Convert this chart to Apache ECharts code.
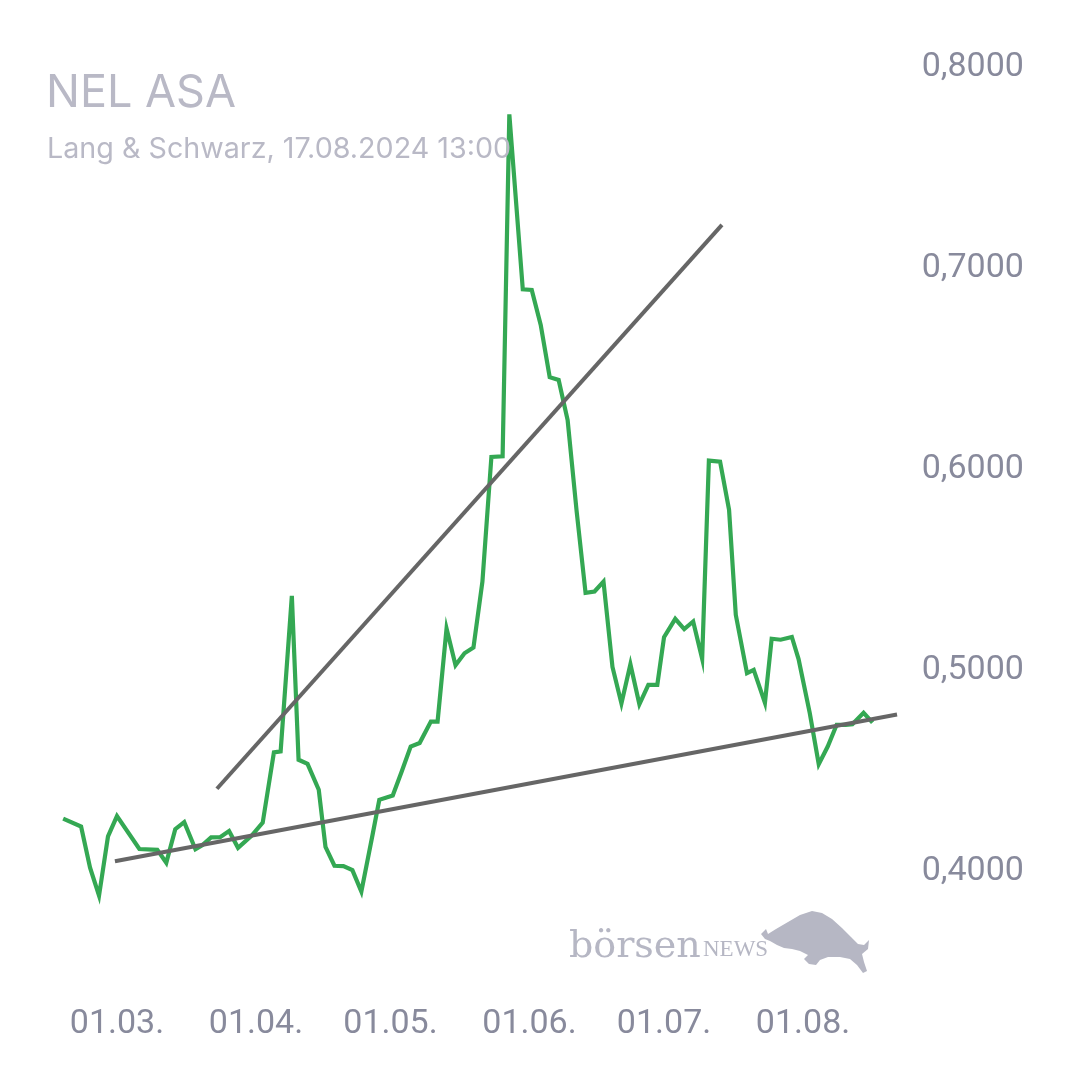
<!DOCTYPE html>
<html>
<head>
<meta charset="utf-8">
<style>
  html, body { margin: 0; padding: 0; background: #ffffff; }
  #chart { width: 1080px; height: 1080px; }
</style>
<script src="https://cdn.jsdelivr.net/npm/echarts@6/dist/echarts.min.js"></script>
</head>
<body>
<div id="chart"></div>
<script>
// ---------- data ----------
const titleText = 'NEL ASA';
const subtitleText = 'Lang & Schwarz, 17.08.2024 13:00';

const dates = [
  '2024-02-18 00:00','2024-02-22 00:00','2024-02-24 00:00','2024-02-26 00:00','2024-02-28 00:00',
  '2024-03-01 00:00','2024-03-06 00:00','2024-03-10 00:00','2024-03-12 00:00','2024-03-14 00:00',
  '2024-03-16 00:00','2024-03-18 12:00','2024-03-20 00:00','2024-03-22 00:00','2024-03-24 00:00',
  '2024-03-26 00:00','2024-03-28 00:00','2024-03-31 00:00','2024-04-02 12:00','2024-04-05 00:00',
  '2024-04-06 12:00','2024-04-09 00:00','2024-04-10 12:00','2024-04-12 12:00','2024-04-15 00:00',
  '2024-04-16 12:00','2024-04-18 12:00','2024-04-20 12:00','2024-04-22 12:00','2024-04-24 12:00',
  '2024-04-27 00:00','2024-04-28 12:00','2024-05-01 12:00','2024-05-03 12:00','2024-05-05 12:00',
  '2024-05-07 12:00','2024-05-10 00:00','2024-05-11 12:00','2024-05-13 12:00','2024-05-15 12:00',
  '2024-05-17 12:00','2024-05-19 12:00','2024-05-21 12:00','2024-05-23 12:00','2024-05-26 00:00',
  '2024-05-27 12:00','2024-05-30 12:00','2024-06-01 12:00','2024-06-03 12:00','2024-06-05 12:00',
  '2024-06-07 12:00','2024-06-09 12:00','2024-06-11 12:00','2024-06-13 12:00','2024-06-15 12:00',
  '2024-06-17 12:00','2024-06-19 12:00','2024-06-21 12:00','2024-06-23 12:00','2024-06-25 12:00',
  '2024-06-27 12:00','2024-06-29 12:00','2024-07-01 00:00','2024-07-03 12:00','2024-07-05 12:00',
  '2024-07-07 12:00','2024-07-09 12:00','2024-07-11 00:00','2024-07-13 12:00','2024-07-15 12:00',
  '2024-07-17 00:00','2024-07-19 12:00','2024-07-21 00:00','2024-07-23 12:00','2024-07-25 00:00',
  '2024-07-27 00:00','2024-07-29 12:00','2024-07-31 00:00','2024-08-02 12:00','2024-08-04 12:00',
  '2024-08-06 12:00','2024-08-08 12:00','2024-08-10 12:00','2024-08-12 00:00','2024-08-14 12:00',
  '2024-08-16 12:00'
];
const prices = [
  0.4249,0.4210,0.4005,0.3866,0.4161,
  0.4262,0.4098,0.4094,0.4030,0.4197,
  0.4232,0.4097,0.4117,0.4156,0.4157,
  0.4188,0.4104,0.4164,0.4229,0.4579,
  0.4584,0.5357,0.4542,0.4522,0.4393,
  0.4109,0.4015,0.4013,0.3993,0.3886,
  0.4169,0.4343,0.4364,0.4484,0.4608,
  0.4625,0.4732,0.4732,0.5195,0.5012,
  0.5072,0.5100,0.5428,0.6048,0.6051,
  0.7752,0.6882,0.6879,0.6705,0.6445,
  0.6431,0.6232,0.5780,0.5372,0.5379,
  0.5428,0.5004,0.4822,0.5017,0.4818,
  0.4915,0.4915,0.5152,0.5243,0.5192,
  0.5230,0.5045,0.6030,0.6025,0.5785,
  0.5263,0.4973,0.4989,0.4825,0.5144,
  0.5139,0.5153,0.5043,0.4774,0.4520,
  0.4608,0.4716,0.4716,0.4719,0.4776,
  0.4727
];

const upperTrendDates = ['2024-03-23 07:00', '2024-07-13 22:00'];
const upperTrendValues = [0.4398, 0.7202];
const lowerTrendDates = ['2024-02-29 13:00', '2024-08-21 23:00'];
const lowerTrendValues = [0.4037, 0.4767];

const xTickDates = ['2024-03-01', '2024-04-01', '2024-05-01', '2024-06-01', '2024-07-01', '2024-08-01'];
const xTickLabels = ['01.03.', '01.04.', '01.05.', '01.06.', '01.07.', '01.08.'];
const yTicks = [0.4, 0.5, 0.6, 0.7, 0.8];

// ---------- helpers ----------
function parseLocal(s) {
  const parts = s.split(' ');
  const d = parts[0].split('-').map(Number);
  const t = (parts[1] || '00:00').split(':').map(Number);
  return new Date(d[0], d[1] - 1, d[2], t[0], t[1]).getTime();
}
function pairs(ds, vs) { return ds.map((d, i) => [parseLocal(d), vs[i]]); }

const tickTimes = xTickDates.map(parseLocal);
const labelColor = '#888a9c';
const green = '#34a853';
const gray = '#666666';
const logoColor = '#b6b7c4';

const chart = echarts.init(document.getElementById('chart'), null, { renderer: 'canvas' });

const option = {
  animation: false,
  backgroundColor: '#ffffff',
  title: [
    {
      text: titleText,
      left: 46,
      top: 71,
      padding: 0,
      textStyle: { fontFamily: 'Inter', fontSize: 45, fontWeight: 'normal', color: '#b9b9c6' }
    },
    {
      text: subtitleText,
      left: 47,
      top: 135,
      padding: 0,
      textStyle: { fontFamily: 'Inter', fontSize: 28.7, fontWeight: 'normal', color: '#b9b9c6' }
    }
  ],
  grid: {
    left: 49.7,
    right: 178.3,
    top: 64.5,
    bottom: 211.25,
    containLabel: false
  },
  xAxis: {
    type: 'value',
    min: parseLocal('2024-02-15'),
    max: parseLocal('2024-08-23'),
    axisLine: { show: false },
    axisTick: { show: false },
    splitLine: { show: false },
    axisLabel: {
      customValues: tickTimes,
      margin: 139,
      fontFamily: 'Roboto',
      fontSize: 34,
      color: labelColor,
      formatter: function (v) {
        let best = 0, bd = Infinity;
        tickTimes.forEach((t, i) => { const dd = Math.abs(t - v); if (dd < bd) { bd = dd; best = i; } });
        return bd < 86400000 * 2 ? xTickLabels[best] : '';
      }
    }
  },
  yAxis: {
    type: 'value',
    position: 'right',
    min: yTicks[0],
    max: yTicks[yTicks.length - 1],
    interval: 0.1,
    axisLine: { show: false },
    axisTick: { show: false },
    splitLine: { show: false },
    axisLabel: {
      margin: 20,
      color: labelColor,
      formatter: function (v) { return '{v|' + v.toFixed(4).replace('.', ',') + '}'; },
      rich: {
        v: { fontFamily: 'Roboto', fontSize: 34, color: labelColor, padding: [5, 0, 0, 0] }
      }
    }
  },
  graphic: [
    {
      type: 'polygon',
      z: 1,
      shape: {
        points: [
          [761, 934], [766, 929], [768, 934], [776, 929], [788, 922], [800, 915], [812, 911],
          [822, 913], [832, 919], [842, 928], [851, 937], [858, 944], [864, 945], [869, 940],
          [868, 949], [862, 954], [864, 962], [867, 971], [863, 973], [857, 965],
          [850, 959], [840, 957], [828, 957], [820, 960], [816, 965], [809, 964],
          [804, 959], [808, 955], [800, 951], [792, 949], [784, 948], [777, 945], [770, 941], [765, 939]
        ]
      },
      style: { fill: logoColor }
    },
    {
      type: 'text',
      left: 569,
      top: 928,
      z: 1,
      style: { text: 'börsen', font: '38px "DejaVu Serif"', fill: logoColor }
    },
    {
      type: 'text',
      left: 703,
      top: 938,
      z: 1,
      style: { text: 'NEWS', font: '23px "Liberation Serif"', fill: logoColor }
    }
  ],
  series: [
    {
      name: 'NEL ASA',
      type: 'line',
      data: pairs(dates, prices),
      showSymbol: false,
      clip: false,
      z: 3,
      lineStyle: { color: green, width: 4.2, join: 'miter', miterLimit: 10 },
      emphasis: { disabled: true }
    },
    {
      name: 'Trend oben',
      type: 'line',
      data: pairs(upperTrendDates, upperTrendValues),
      showSymbol: false,
      clip: false,
      z: 4,
      lineStyle: { color: gray, width: 4 },
      emphasis: { disabled: true }
    },
    {
      name: 'Trend unten',
      type: 'line',
      data: pairs(lowerTrendDates, lowerTrendValues),
      showSymbol: false,
      clip: false,
      z: 4,
      lineStyle: { color: gray, width: 4 },
      emphasis: { disabled: true }
    }
  ]
};
chart.setOption(option);
</script>
</body>
</html>
